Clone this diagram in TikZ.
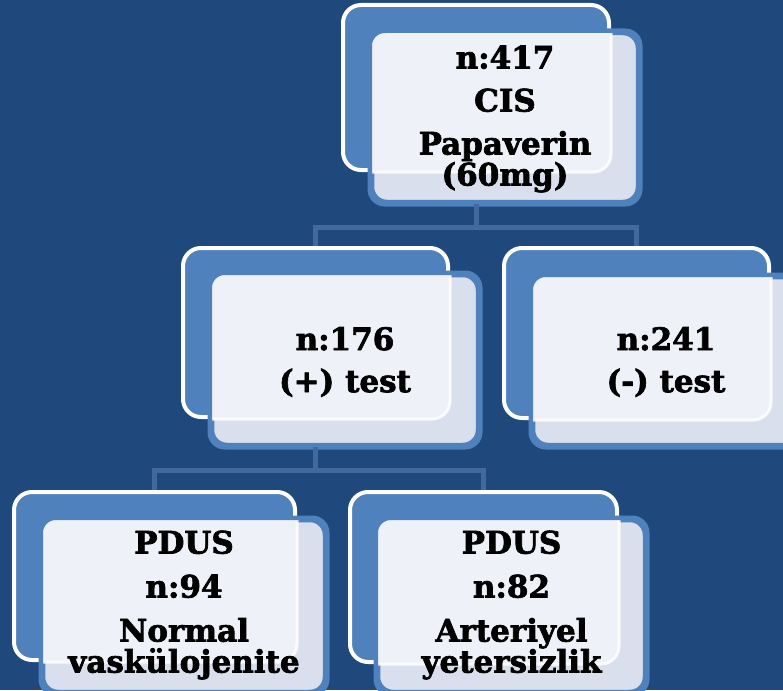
\documentclass[tikz,border=0pt]{standalone}
\usepackage{fontspec}
\setmainfont{DejaVu Serif}[BoldFont=DejaVu Serif Bold, BoldFeatures={FakeBold=2.2}]
\definecolor{bgc}{HTML}{1F497D}
\definecolor{backc}{HTML}{4F81BD}
\definecolor{frontc}{HTML}{D9DFEC}
\definecolor{overc}{HTML}{EEF1F7}
\definecolor{connc}{HTML}{42699D}
\tikzset{
  backbox/.style={draw=white, line width=4pt, fill=backc, rounded corners=18pt, inner sep=0pt},
  frontbox/.style={draw=backc, line width=4.5pt, fill=frontc, rounded corners=15pt, inner sep=0pt},
  frontline/.style={draw=backc, line width=4.5pt, rounded corners=15pt},
  label/.style={align=center, font=\fontsize{31}{31}\selectfont\bfseries, text=black, inner sep=0pt},
  conn/.style={draw=connc, line width=5pt}
}
\newcommand\pairbox[9]{%
  % #1 name, #2 back x, #3 back y, #4 back w, #5 back h, #6 front x, #7 front y, #8 front w, #9 front h
  \node[backbox, minimum width=#4pt, minimum height=#5pt] (#1B) at (#2,#3) {};
  \node[frontbox, minimum width=#8pt, minimum height=#9pt] (#1F) at (#6,#7) {};
  \begin{scope}
    \clip[rounded corners=15pt] (#1F.south west) rectangle (#1F.north east);
    \fill[overc, rounded corners=18pt] (#1B.south west) rectangle (#1B.north east);
    \draw[white, line width=3pt, opacity=0.85, rounded corners=18pt] (#1B.south west) rectangle (#1B.north east);
  \end{scope}
  \draw[frontline] (#1F.south west) rectangle (#1F.north east);
}
\begin{document}
\begin{tikzpicture}[x=1pt, y=-1pt]
\useasboundingbox (0,0) rectangle (783,690);
\clip (0,0) rectangle (783,690);
\fill[bgc] (0,0) rectangle (783,690);

\pairbox{top}{476}{87.5}{266}{165}{505}{117.5}{266}{169}
\pairbox{ml}{315.5}{332.5}{265}{169}{345}{360}{266}{170}
\pairbox{mr}{636.5}{333}{265}{170}{666}{361}{266}{168}
\pairbox{bl}{154.5}{576}{281}{168}{184}{606}{282}{172}
\pairbox{br}{483.5}{577}{267}{170}{511.5}{606}{267}{172}

\coordinate (j1) at (476,227);
\coordinate (j2) at (315.5,470);
\draw[conn] (topB.center |- topF.south) -- (j1);
\draw[conn] (j1) -| (mlB.north);
\draw[conn] (j1) -| (mrB.north);
\draw[conn] (mlB.center |- mlF.south) -- (j2);
\draw[conn] (j2) -| (blB.north);
\draw[conn] (j2) -| (brB.north);

\node[label] (topT) at (505,119) {n:417\\[12pt]CIS\\[12pt]Papaverin\\(60mg)};
\node[label] (mlT) at (345,362) {n:176\\[11pt](+) test};
\node[label] (mrT) at (666,362) {n:241\\[11pt](-) test};
\node[label] (blT) at (184,605) {PDUS\\[13pt]n:94\\[13pt]Normal\\vaskülojenite};
\node[label] (brT) at (511.5,605) {PDUS\\[13pt]n:82\\[13pt]Arteriyel\\yetersizlik};
\end{tikzpicture}
\end{document}
